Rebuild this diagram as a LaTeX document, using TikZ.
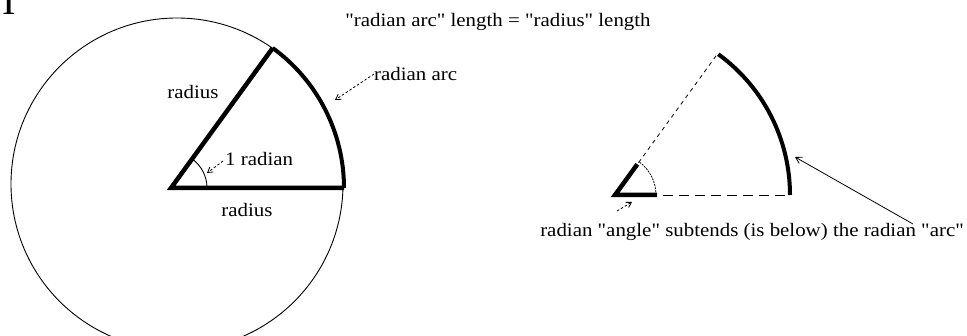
\documentclass[tikz,border=0pt]{standalone}
\usepackage{fontspec}
\setmainfont[FakeStretch=1.1,Ligatures=TeXOff]{Liberation Serif}
\newfontfamily\bigfont{Liberation Serif}
\newcommand{\dq}{\symbol{34}}
\usetikzlibrary{arrows.meta,calc}
\begin{document}
\begin{tikzpicture}[x=1pt,y=1pt,
  lbl/.style={inner sep=0pt,font=\fontsize{19}{21}\selectfont},
  thickline/.style={line width=4.5pt,line cap=butt,line join=miter},
  thinline/.style={line width=0.9pt},
  darr/.style={line width=0.8pt,dash pattern=on 2.5pt off 2pt,-{Straight Barb[length=5pt,width=6pt]}},
  sarr/.style={line width=0.8pt,-{Straight Barb[length=6pt,width=7pt]}},
  dline/.style={line width=0.8pt,dash pattern=on 10pt off 6pt}]
\useasboundingbox (0,0) rectangle (967,335);
\clip (0,0) rectangle (967,335);
\fill[white] (0,0) rectangle (967,335);
% partial large letter top-left
\node[inner sep=0pt,anchor=base,font=\bigfont\fontsize{40}{40}\selectfont] (bigI) at (9,320) {I};
% circle
\draw[thinline] (177,151) circle[radius=166];
% left sector
\coordinate (O1) at (171,147);
\coordinate (A) at (344,147);
\coordinate (B) at ($(O1)+(54:173)$);
\draw[thickline] (A) -- (O1) -- (B);
\draw[line width=4pt] (A) arc[start angle=0,end angle=54,radius=173];
\draw[thinline] ($(O1)+(36,0)$) arc[start angle=0,end angle=54,radius=36];
\node[lbl] (rad1) at (193,243) {radius};
\node[lbl] (rad2) at (247,125) {radius};
\node[lbl,anchor=west] (oner) at (225,176) {1 radian};
\node[lbl,anchor=west] (rarc) at (374,261) {radian arc};
\coordinate (arctip) at (335,235);
\coordinate (angtip) at (207,162);
\draw[darr] (rarc.west) -- (arctip);
\draw[darr] ([xshift=-2pt,yshift=-2pt]oner.west) -- (angtip);
% top text
\node[lbl] (toptext) at (498,313) {\dq radian arc\dq{} length = \dq radius\dq{} length};
% right figure
\coordinate (O2) at (615,140);
\coordinate (C) at (790,140);
\coordinate (D) at ($(O2)+(54:174)$);
\draw[dline] (O2) -- (C);
\draw[line width=0.8pt,dash pattern=on 4pt off 4pt] (O2) -- (D);
\draw[line width=4pt] (C) arc[start angle=0,end angle=54,radius=174];
\draw[thickline] ($(O2)+(42,0)$) -- (O2) -- ($(O2)+(54:38)$);
\draw[line width=0.8pt,dash pattern=on 2pt off 1pt] ($(O2)+(41,0)$) arc[start angle=0,end angle=54,radius=41];
\node[lbl,anchor=east] (bottext) at (964,103) {radian \dq angle\dq{} subtends (is below) the radian \dq arc\dq};
\coordinate (rtail) at (913,111);
\coordinate (rtip) at (795,178);
\coordinate (vtail) at (617,124);
\coordinate (vtip) at (632,133);
\draw[sarr] (rtail) -- (rtip);
\draw[darr] (vtail) -- (vtip);
\end{tikzpicture}
\end{document}
